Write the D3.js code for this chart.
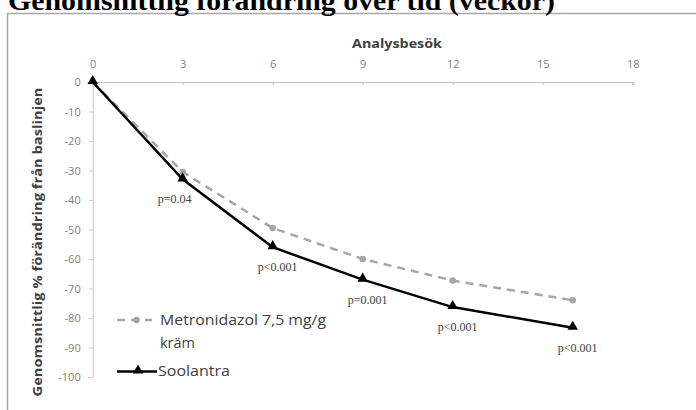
<!DOCTYPE html>
<html>
<head>
<meta charset="utf-8">
<script src="https://cdn.jsdelivr.net/npm/d3@7"></script>
<style>
  body { margin: 0; background: #fff; }
  svg { display: block; }
</style>
</head>
<body>
<svg id="chart" width="696" height="410"></svg>
<script>
// weeks of the analysis visits
const weeks = [0, 3, 6, 9, 12, 16];
// mean % change from baseline
const metronidazol = [0, -30.5, -49.5, -60, -67.3, -74];
const soolantra = [0, -33, -56, -67, -76.3, -83.3];
const pValues = ["", "p=0.04", "p<0.001", "p=0.001", "p<0.001", "p<0.001"];
const xTicks = [0, 3, 6, 9, 12, 15, 18];
const yTicks = [0, -10, -20, -30, -40, -50, -60, -70, -80, -90, -100];

const svg = d3.select("#chart");

const x = d3.scaleLinear().domain([0, 18]).range([92.7, 632.7]);
const y = d3.scaleLinear().domain([0, -100]).range([82, 377]);

const sans = "Open Sans, Liberation Sans, sans-serif";
const serif = "Liberation Serif, Times New Roman, serif";

// chart frame (cut off like the screenshot)
svg.append("path")
  .attr("d", "M7.5,410 V13.5 H696")
  .attr("fill", "none")
  .attr("stroke", "#a8a8a8")
  .attr("stroke-width", 1.5);

// title sits partly above the page edge, as in the source
svg.append("text")
  .attr("x", 8)
  .attr("y", 10)
  .attr("font-family", serif)
  .attr("font-weight", "bold")
  .attr("font-size", 28)
  .attr("textLength", 547)
  .attr("lengthAdjust", "spacingAndGlyphs")
  .attr("fill", "#000")
  .text("Genomsnittlig förändring över tid (veckor)");

// x axis on top
const xAxis = svg.append("g")
  .attr("transform", `translate(0,${y(0)})`)
  .call(d3.axisTop(x).tickValues(xTicks).tickSize(-3).tickPadding(14));
xAxis.select(".domain").attr("stroke", "#bfbfbf").attr("stroke-width", 1.2);
xAxis.selectAll(".tick line").attr("stroke", "#bfbfbf");
xAxis.selectAll(".tick text")
  .attr("fill", "#7f7f7f")
  .attr("font-family", sans)
  .attr("font-size", 11);

const yAxis = svg.append("g")
  .attr("transform", `translate(${x(0)},0)`)
  .call(d3.axisLeft(y).tickValues(yTicks).tickFormat(d => String(d)).tickSize(4).tickPadding(8));
yAxis.select(".domain").attr("stroke", "#d0d0d0").attr("stroke-width", 1.2);
yAxis.selectAll(".tick line").attr("stroke", "#d0d0d0");
yAxis.selectAll(".tick text")
  .attr("fill", "#7f7f7f")
  .attr("font-family", sans)
  .attr("font-size", 11);

svg.append("text")
  .attr("x", 397)
  .attr("y", 48)
  .attr("text-anchor", "middle")
  .attr("font-family", sans)
  .attr("font-weight", "bold")
  .attr("font-size", 13)
  .attr("textLength", 90)
  .attr("lengthAdjust", "spacingAndGlyphs")
  .attr("fill", "#404040")
  .text("Analysbesök");

svg.append("text")
  .attr("transform", "translate(42,242) rotate(-90)")
  .attr("text-anchor", "middle")
  .attr("font-family", sans)
  .attr("font-weight", "bold")
  .attr("font-size", 13)
  .attr("textLength", 309)
  .attr("lengthAdjust", "spacingAndGlyphs")
  .attr("fill", "#404040")
  .text("Genomsnittlig % förändring från baslinjen");

const line = d3.line().x(d => x(d[0])).y(d => y(d[1]));
const metroPts = d3.zip(weeks, metronidazol);
const sooPts = d3.zip(weeks, soolantra);

svg.append("path")
  .attr("d", line(metroPts))
  .attr("fill", "none")
  .attr("stroke", "#a6a6a6")
  .attr("stroke-width", 2.5)
  .attr("stroke-dasharray", "8,6");

svg.selectAll(".metro-dot")
  .data(metroPts.slice(1))
  .join("circle")
  .attr("class", "metro-dot")
  .attr("cx", d => x(d[0]))
  .attr("cy", d => y(d[1]))
  .attr("r", 3.3)
  .attr("fill", "#a6a6a6");

svg.append("path")
  .attr("d", line(sooPts))
  .attr("fill", "none")
  .attr("stroke", "#000")
  .attr("stroke-width", 2.5);

const tri = d3.symbol().type(d3.symbolTriangle).size(48);
svg.selectAll(".soo-tri")
  .data(sooPts)
  .join("path")
  .attr("class", "soo-tri")
  .attr("transform", d => `translate(${x(d[0])},${y(d[1]) - 1})`)
  .attr("d", tri)
  .attr("fill", "#000");

svg.selectAll(".pval")
  .data(d3.zip(weeks, soolantra, pValues).filter(d => d[2]))
  .join("text")
  .attr("class", "pval")
  .attr("x", d => x(d[0]) + (d[0] === 3 ? -8 : 5))
  .attr("y", d => y(d[1]) + 24)
  .attr("text-anchor", "middle")
  .attr("font-family", serif)
  .attr("font-size", 12)
  .attr("fill", "#404040")
  .text(d => d[2]);

// legend
const legend = svg.append("g")
  .attr("font-family", sans)
  .attr("font-size", 14)
  .attr("fill", "#404040");

legend.append("line")
  .attr("x1", 117).attr("x2", 152).attr("y1", 320).attr("y2", 320)
  .attr("stroke", "#a6a6a6").attr("stroke-width", 2.5)
  .attr("stroke-dasharray", "8,6");
legend.append("circle")
  .attr("cx", 136.5).attr("cy", 320).attr("r", 3.3).attr("fill", "#a6a6a6");
legend.append("text").attr("x", 160).attr("y", 325)
  .attr("textLength", 166).attr("lengthAdjust", "spacingAndGlyphs")
  .text("Metronidazol 7,5 mg/g");
legend.append("text").attr("x", 160).attr("y", 348)
  .attr("textLength", 35).attr("lengthAdjust", "spacingAndGlyphs")
  .text("kräm");

legend.append("line")
  .attr("x1", 117).attr("x2", 157).attr("y1", 371.5).attr("y2", 371.5)
  .attr("stroke", "#000").attr("stroke-width", 2.5);
legend.append("path")
  .attr("transform", "translate(138,370.5)")
  .attr("d", tri)
  .attr("fill", "#000");
legend.append("text").attr("x", 158).attr("y", 376)
  .attr("textLength", 72).attr("lengthAdjust", "spacingAndGlyphs")
  .text("Soolantra");
</script>
</body>
</html>
